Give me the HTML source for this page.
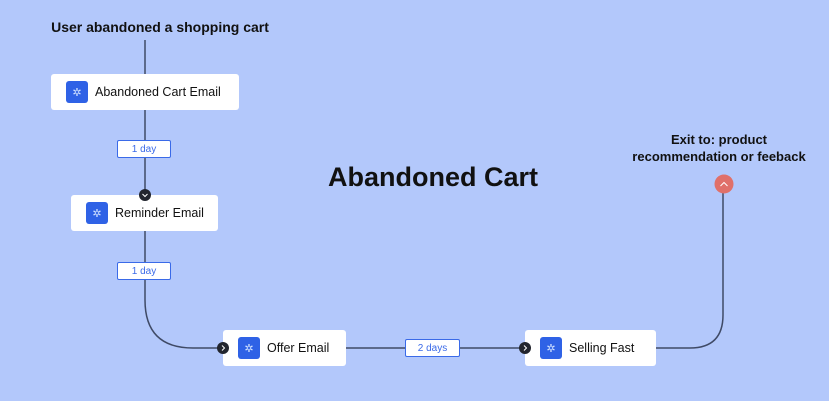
<!DOCTYPE html>
<html><head><style>
body{margin:0;width:829px;height:401px;background:#b3c8fb;position:relative;overflow:hidden;font-family:"Liberation Sans",sans-serif;color:#111;}
.n{position:absolute;background:#fff;border-radius:3px;height:36px;display:flex;align-items:center;font-size:12.5px;font-weight:500;box-sizing:border-box;padding-left:15px}
.ic{width:22px;height:22px;background:#2f62e6;border-radius:3px;margin-right:7px;display:flex;align-items:center;justify-content:center;color:#cfe0ff;font-size:11px}
.b{position:absolute;background:#fff;border:1px solid #3a6ae8;border-radius:2px;color:#3a6ae8;font-size:10px;height:16px;display:flex;align-items:center;justify-content:center}
.t{position:absolute;font-weight:bold;text-align:center}
svg{position:absolute;left:0;top:0}
</style></head><body>
<svg width="829" height="401">
<g fill="none" stroke="#3f4a66" stroke-width="1.5">
<path d="M145 40 V300 Q145 348 193 348 H525"/>
<path d="M656 348 H690 Q723 348 723 315 V190"/>
</g>
</svg>
<div class="t" style="left:30px;top:19px;width:260px;font-size:14px">User abandoned a shopping cart</div>
<div class="n" style="left:51px;top:74px;width:188px"><div class="ic">✲</div>Abandoned Cart Email</div>
<div class="b" style="left:117px;top:140px;width:52px">1 day</div>
<div class="n" style="left:71px;top:195px;width:147px"><div class="ic">✲</div>Reminder Email</div>
<div class="b" style="left:117px;top:262px;width:52px">1 day</div>
<div class="n" style="left:223px;top:330px;width:123px"><div class="ic">✲</div>Offer Email</div>
<div class="b" style="left:405px;top:339px;width:53px">2 days</div>
<div class="n" style="left:525px;top:330px;width:131px"><div class="ic">✲</div>Selling Fast</div>
<div class="t" style="left:283px;top:162px;width:300px;font-size:27px">Abandoned Cart</div>
<div class="t" style="left:609px;top:131px;width:220px;font-size:13px;line-height:17px">Exit to: product<br>recommendation or feeback</div>
<svg width="829" height="401">
<circle cx="145" cy="195" r="6" fill="#22252e"/>
<path d="M142.5 194 L145 196.5 L147.5 194" stroke="#fff" fill="none" stroke-width="1"/>
<circle cx="223" cy="348" r="6" fill="#22252e"/>
<path d="M222 345.5 L224.5 348 L222 350.5" stroke="#fff" fill="none" stroke-width="1"/>
<circle cx="525" cy="348" r="6" fill="#22252e"/>
<path d="M524 345.5 L526.5 348 L524 350.5" stroke="#fff" fill="none" stroke-width="1"/>
<circle cx="724" cy="184" r="9.5" fill="#e0706a"/>
<path d="M720.5 186 L724 182.5 L727.5 186" stroke="#fff" fill="none" stroke-width="1"/>
</svg>
</body></html>
